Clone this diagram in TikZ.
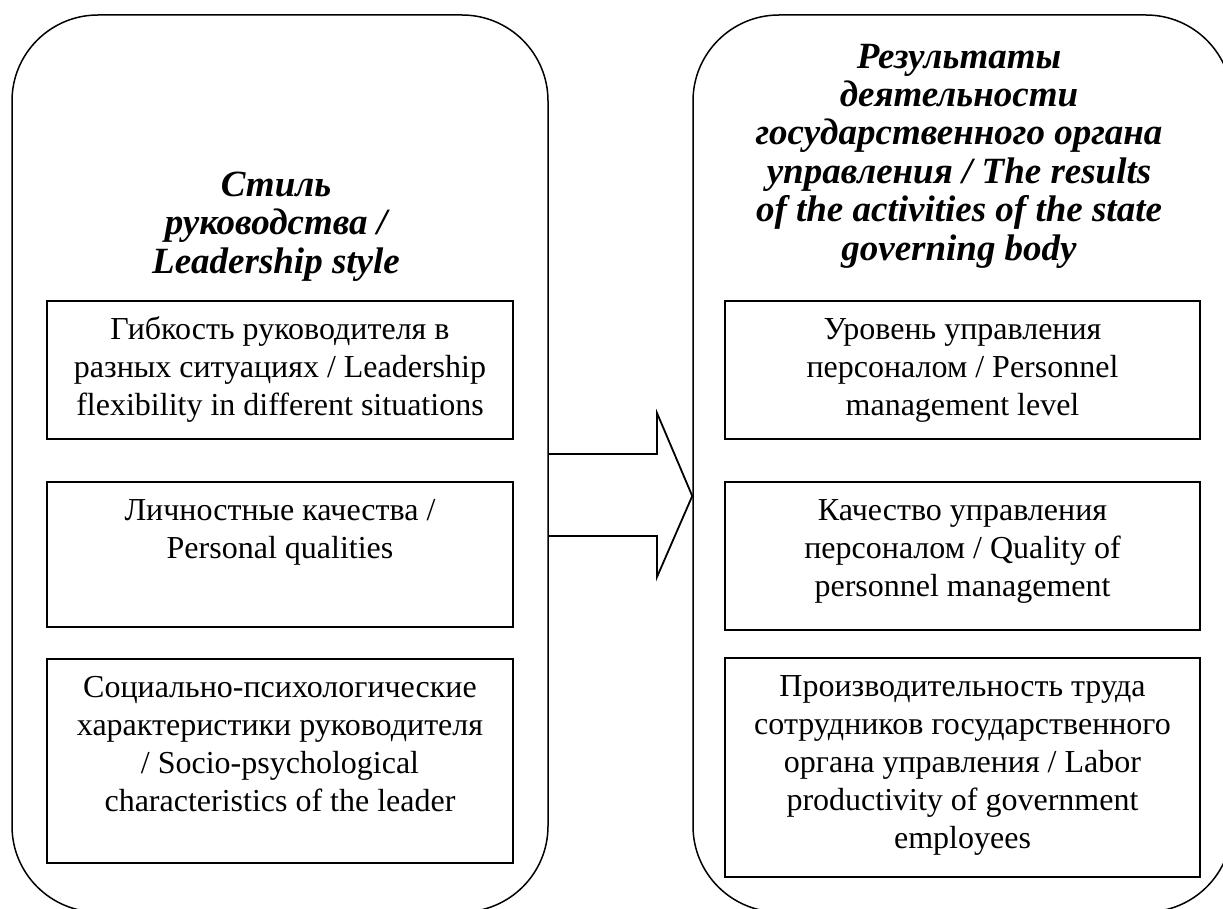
\documentclass[tikz,border=0pt]{standalone}
\usepackage{fontspec}
\setmainfont{Liberation Serif}
\begin{document}
\begin{tikzpicture}[x=1pt,y=-1pt,
  outerbox/.style={draw, line width=1.5pt, rounded corners=86pt, inner sep=0pt},
  innerbox/.style={draw, line width=1.8pt, inner sep=0pt},
  bodytext/.style={align=center, inner sep=0pt, anchor=north, font=\fontsize{32}{38}\selectfont},
  titletext/.style={align=center, inner sep=0pt, anchor=north, font=\fontsize{37}{38.4}\selectfont\bfseries\itshape},
  arrowline/.style={line width=1.8pt, line join=miter}]
\useasboundingbox (0,0) rectangle (1223,909);
\begin{scope}
\clip (0,0) rectangle (1223,909);
% outer rounded panels
\node[outerbox, minimum width=536pt, minimum height=897pt] (L) at (280,463.5) {};
\node[outerbox, minimum width=539pt, minimum height=897pt] (R) at (962.5,463.5) {};
% titles
\node[titletext] (tL) at (276,170) {\rule{0pt}{26pt}Стиль\\ руководства /\\ Leadership style};
\node[titletext] (tR) at (959,42) {\rule{0pt}{26pt}Результаты\\ деятельности\\ государственного органа\\ управления / The results\\ of the activities of the state\\ governing body};
% left inner boxes
\node[innerbox, minimum width=466pt, minimum height=138pt] (bL1) at (280,370) {};
\node[innerbox, minimum width=466pt, minimum height=145pt] (bL2) at (280,554.5) {};
\node[innerbox, minimum width=466pt, minimum height=204pt] (bL3) at (280,761) {};
% right inner boxes
\node[innerbox, minimum width=475pt, minimum height=138pt] (bR1) at (962.5,370) {};
\node[innerbox, minimum width=475pt, minimum height=148pt] (bR2) at (962.5,556) {};
\node[innerbox, minimum width=475pt, minimum height=219pt] (bR3) at (962.5,767.5) {};
% texts
\node[bodytext] (xL1) at ([yshift=-15pt]bL1.north) {\rule{0pt}{24pt}Гибкость руководителя в\\ разных ситуациях / Leadership\\ flexibility in different situations};
\node[bodytext] (xL2) at ([yshift=-15pt]bL2.north) {\rule{0pt}{24pt}Личностные качества /\\ Personal qualities};
\node[bodytext] (xL3) at ([yshift=-15pt]bL3.north) {\rule{0pt}{24pt}Социально-психологические\\ характеристики руководителя\\ / Socio-psychological\\ characteristics of the leader};
\node[bodytext] (xR1) at ([yshift=-15pt]bR1.north) {\rule{0pt}{24pt}Уровень управления\\ персоналом / Personnel\\ management level};
\node[bodytext] (xR2) at ([yshift=-15pt]bR2.north) {\rule{0pt}{24pt}Качество управления\\ персоналом / Quality of\\ personnel management};
\node[bodytext] (xR3) at ([yshift=-15pt]bR3.north) {\rule{0pt}{24pt}Производительность труда\\ сотрудников государственного\\ органа управления / Labor\\ productivity of government\\ employees};
% block arrow between panels
\coordinate (a1) at (L.east |- 0,454);
\coordinate (a7) at (L.east |- 0,536);
\coordinate (tip) at (R.west |- 0,496);
\draw[arrowline] (a1) -- (657,454) -- (657,413) -- (tip) -- (657,577) -- (657,536) -- (a7);
\end{scope}
\end{tikzpicture}
\end{document}
